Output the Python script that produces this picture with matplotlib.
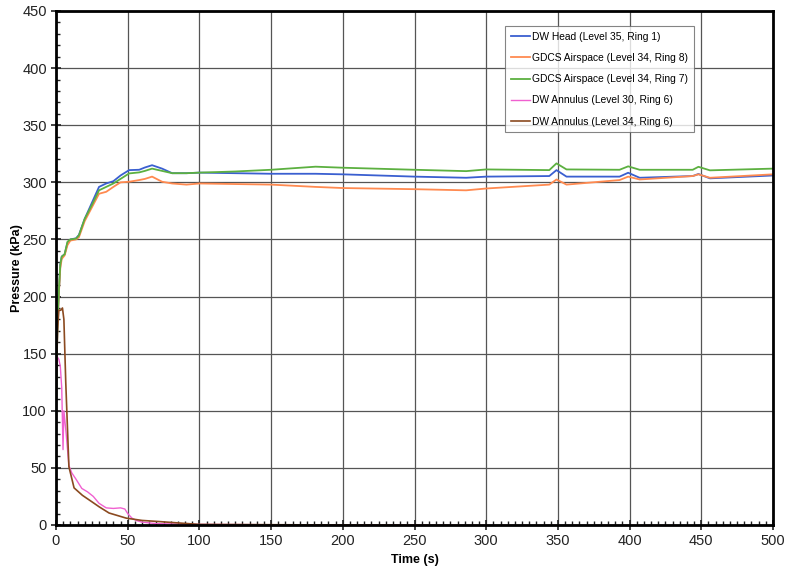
import matplotlib.pyplot as plt
from matplotlib.ticker import MultipleLocator

plt.rcParams['font.family'] = ['Liberation Sans', 'DejaVu Sans']

# DW Head (Level 35, Ring 1) / GDCS Airspace rings 8 and 7
t_rise = [0, 1, 2, 3, 4, 6, 8, 10, 14, 16, 20, 25, 30, 35, 40, 45, 51, 58, 62, 67, 74, 81, 91,
          100, 125, 150, 181, 200, 250, 286, 300, 344, 349, 356, 393, 399, 407, 444, 448, 456, 500]
dw_head = [100, 175, 205, 228, 235, 237, 247, 250, 251, 254, 268, 282, 296, 299, 301, 306, 310.7, 311, 313, 315, 312, 308, 308,
           308.5, 308, 307.5, 307.5, 307, 305, 304, 305, 305.5, 310.7, 305, 305, 308.4, 304, 305.5, 307.3, 303.5, 306]
gdcs_r8 = [100, 172, 203, 225, 233, 236, 245, 249, 250, 252, 266, 278, 290, 291.7, 296, 300, 300.5, 302, 303, 305, 300.5, 299, 298,
           299, 298.5, 298, 296, 295, 294, 293, 294.6, 298, 302.5, 298, 302, 305, 302.5, 305.5, 307, 304, 307]
gdcs_r7 = [100, 175, 205, 228, 235, 237, 248, 250, 250.7, 253.6, 268, 280, 293, 296, 299, 303, 307.8, 308.7, 310, 312, 310, 308, 308,
           308.5, 309.5, 311, 313.7, 312.8, 311, 309.8, 311.3, 310.7, 316.6, 311.3, 311, 314, 311, 311, 313.6, 310.5, 312]

# DW Annulus (Level 30, Ring 6)
t_ann30 = [0, 0.5, 2, 3, 4, 4.9, 5.5, 7, 9, 11, 14, 18, 22, 26, 30, 35, 40, 45, 48, 50, 53, 56, 60, 70, 100, 200, 300, 400, 500]
dw_ann30 = [120, 148, 145, 139, 120, 66, 100, 81, 52, 45.6, 40, 32, 29, 25, 19, 15, 14.5, 15, 14, 10, 6, 4, 2.5, 1.2, 0.5, 0, -0.5, -0.5, -1]

# DW Annulus (Level 34, Ring 6)
t_ann34 = [0, 1, 2, 3.3, 4.5, 5.5, 6.8, 9, 12.6, 18.4, 25.4, 30, 37, 49, 60, 72, 100, 200, 300, 400, 500]
dw_ann34 = [120, 170, 188, 188, 190, 180, 125, 51, 32.5, 26, 20, 16, 10.5, 6, 4, 3, 0.5, 0, -0.5, -0.5, -1]

fig = plt.figure(figsize=(7.85, 5.76), dpi=100)
ax = fig.add_axes([56 / 785, 1 - 525 / 576, 717 / 785, 514 / 576])

ax.plot(t_rise, dw_head, color='#3a5fd0', lw=1.3, label='DW Head (Level 35, Ring 1)')
ax.plot(t_rise, gdcs_r8, color='#ff8a50', lw=1.3, label='GDCS Airspace (Level 34, Ring 8)')
ax.plot(t_rise, gdcs_r7, color='#5cb040', lw=1.3, label='GDCS Airspace (Level 34, Ring 7)')
ax.plot(t_ann30, dw_ann30, color='#f060d0', lw=1.0, label='DW Annulus (Level 30, Ring 6)')
ax.plot(t_ann34, dw_ann34, color='#8b4a20', lw=1.2, label='DW Annulus (Level 34, Ring 6)')

ax.set_xlim(0, 500)
ax.set_ylim(0, 450)
ax.xaxis.set_major_locator(MultipleLocator(50))
ax.xaxis.set_minor_locator(MultipleLocator(5))
ax.yaxis.set_major_locator(MultipleLocator(50))
ax.yaxis.set_minor_locator(MultipleLocator(10))
ax.tick_params(which='both', labelsize=10.5, colors='#222')
ax.tick_params(which='major', direction='inout', length=7, width=1.2, pad=3)
ax.tick_params(which='minor', direction='in', length=3, width=1.0)
ax.grid(True, which='major', color='#555', lw=0.9)

for s in ['left', 'bottom', 'right', 'top']:
    ax.spines[s].set_linewidth(2)

ax.set_xlabel('Time (s)', fontweight='bold', fontsize=9, labelpad=4)
ax.set_ylabel('Pressure (kPa)', fontweight='bold', fontsize=9)
ax.yaxis.set_label_coords(-0.046, 0.5)

leg = ax.legend(loc='upper right', bbox_to_anchor=(0.890, 0.971), fontsize=7.4, frameon=True,
                fancybox=False, edgecolor='#666', labelspacing=1.1, handlelength=1.9,
                handletextpad=0.2, borderpad=0.55, borderaxespad=0)
leg.get_frame().set_linewidth(0.8)

fig.savefig('out.png', dpi=100)
